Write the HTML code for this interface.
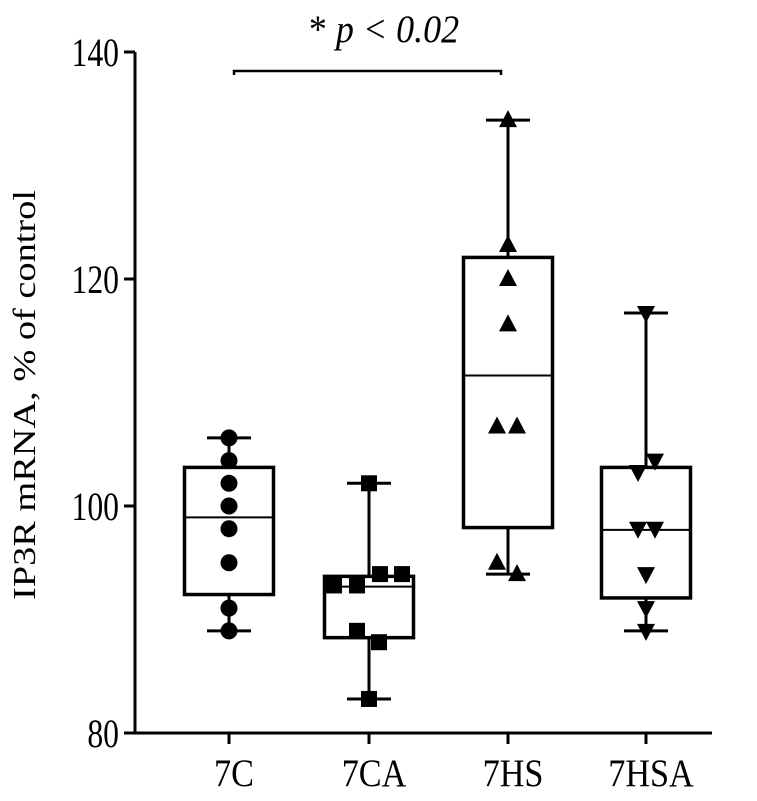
<!DOCTYPE html>
<html><head><meta charset="utf-8"><style>
html,body{margin:0;padding:0;background:#fff;}
svg{display:block;font-family:"Liberation Serif",serif;}
</style></head><body>
<svg id="chart" width="757" height="801" viewBox="0 0 757 801"></svg>
<script>
const categories=["7C","7CA","7HS","7HSA"];
const q1=[92.2,88.4,98.1,91.9];
const q3=[103.4,93.8,121.9,103.4];
const medians=[99,92.9,111.5,97.9];
const mins=[89,83,94,89];
const maxs=[106,102,134,117];
const pts7C=[106,104,102,100,98,95,91,89];
const pts7CA=[102,94,94,93,93,89,88,83];
const pts7HS=[134,123,120,116,107,107,95,94];
const pts7HSA=[117,104,103,98,98,94,91,89];
const points=[pts7C,pts7CA,pts7HS,pts7HSA];
const yTicks=[80,100,120,140];
// horizontal jitter (style only)
const jit=[[0,0,0,0,0,0,0,0],[0,11,33,-35,-12,-12,10,0],[0,0,0,0,-11,9,-11,9],[0,9,-8,-8,9,0,0,0]];
const markers=["circle","square","tri","itri"];

const NS="http://www.w3.org/2000/svg";
const svg=document.getElementById("chart");
const y=v=>733-(v-80)*(681/60);
const xc=[229,369,508,646];
const x=i=>xc[i];
function el(t,a,p){const e=document.createElementNS(NS,t);for(const k in a)e.setAttribute(k,a[k]);(p||svg).appendChild(e);return e;}

const ax=el("g",{});


el("line",{x1:135,y1:52,x2:135,y2:734,stroke:"#000","stroke-width":3},ax);
el("line",{x1:134,y1:733,x2:712,y2:733,stroke:"#000","stroke-width":3},ax);
yTicks.forEach(v=>{
  el("line",{x1:124,y1:y(v),x2:135,y2:y(v),stroke:"#000","stroke-width":3},ax);
  const t=el("text",{x:0,y:0,transform:`translate(119,${y(v)+14}) scale(0.88,1.12)`,"text-anchor":"end","font-size":36},ax);t.textContent=v;
  
  
});
categories.forEach((c,i)=>{
  el("line",{x1:x(i),y1:733,x2:x(i),y2:744,stroke:"#000","stroke-width":3},ax);
  const t=el("text",{x:0,y:0,transform:`translate(${x(i)+5},786) scale(0.95,1.08)`,"text-anchor":"middle","font-size":36},ax);t.textContent=c;
  
  
});
const yt=el("text",{x:0,y:0,transform:"translate(35,395) rotate(-90)","text-anchor":"middle","font-size":32,textLength:410,lengthAdjust:"spacingAndGlyphs"});
yt.textContent="IP3R mRNA, % of control";



categories.forEach((c,i)=>{
  const g=el("g",{});
  
  
  const cx=x(i),hw=44.5;
  el("line",{x1:cx,y1:y(maxs[i]),x2:cx,y2:y(q3[i]),stroke:"#000","stroke-width":3},g);
  el("line",{x1:cx,y1:y(q1[i]),x2:cx,y2:y(mins[i]),stroke:"#000","stroke-width":3},g);
  el("line",{x1:cx-22,y1:y(maxs[i]),x2:cx+22,y2:y(maxs[i]),stroke:"#000","stroke-width":3},g);
  el("line",{x1:cx-22,y1:y(mins[i]),x2:cx+22,y2:y(mins[i]),stroke:"#000","stroke-width":3},g);
  el("rect",{x:cx-hw,y:y(q3[i]),width:hw*2,height:y(q1[i])-y(q3[i]),fill:"#fff",stroke:"#000","stroke-width":3.5},g);
  el("line",{x1:cx-hw,y1:y(medians[i]),x2:cx+hw,y2:y(medians[i]),stroke:"#000","stroke-width":2},g);
  points[i].forEach((v,j)=>{
    const px=cx+jit[i][j],py=y(v);let m;
    if(markers[i]==="circle")m=el("circle",{cx:px,cy:py,r:8.5,fill:"#000"},g);
    else if(markers[i]==="square")m=el("rect",{x:px-8,y:py-8,width:16,height:16,fill:"#000"},g);
    else if(markers[i]==="tri")m=el("polygon",{points:`${px},${py-10} ${px-9},${py+7} ${px+9},${py+7}`,fill:"#000"},g);
    else m=el("polygon",{points:`${px},${py+10} ${px-9},${py-7} ${px+9},${py-7}`,fill:"#000"},g);
    
    
  });
});

const sg=el("g",{});


el("path",{d:"M234,75 V71 H501 V75",fill:"none",stroke:"#000","stroke-width":2.5},sg);
const st=el("text",{x:0,y:0,transform:"translate(384,42) scale(1,1.08)","text-anchor":"middle","font-size":36},sg);
st.innerHTML='* <tspan font-style="italic">p &lt; 0.02</tspan>';
</script>
</body></html>
